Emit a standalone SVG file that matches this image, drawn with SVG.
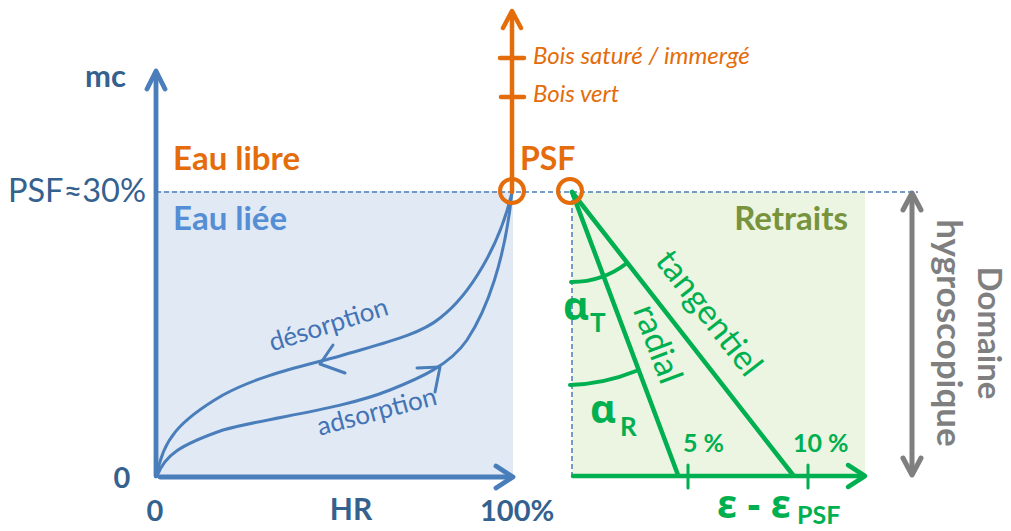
<svg xmlns="http://www.w3.org/2000/svg" width="1011" height="531" viewBox="0 0 1011 531">
<style>
text{font-family:Lato,"Liberation Sans",sans-serif}
.b{font-weight:bold}
.dk{fill:#35618f}
.or{fill:#e46c0a}
.gr{fill:#00b050}
.greek{font-family:"Noto Sans","DejaVu Sans",sans-serif;font-weight:bold}
.ax{fill:none;stroke-linecap:round;stroke-linejoin:round}
.blue{stroke:#4a7ebb}
.orange{stroke:#e46c0a}
.green{stroke:#00b050}
.gray{stroke:#7f7f7f}
</style>
<rect width="1011" height="531" fill="#ffffff"/>
<g id="zones">
<rect x="156" y="191" width="357" height="286" fill="#e0e9f4"/>
<rect x="572" y="192" width="293" height="285" fill="#ecf4e2"/>
<line x1="156" y1="192" x2="918" y2="192" stroke="#4a7ebb" stroke-width="1.5" stroke-dasharray="5 3"/>
<line x1="572" y1="192" x2="572" y2="477" stroke="#4a7ebb" stroke-width="1.5" stroke-dasharray="5 3"/>
</g>
<g id="connectors">
<g id="left-axes" class="ax blue" stroke-width="4.8">
<line x1="156" y1="476" x2="156" y2="73"/>
<polyline points="147,89 156,71 165,89"/>
<line x1="160" y1="477" x2="511" y2="477"/>
<polyline points="496,466 513,477 496,488"/>
</g>
<g id="curves" class="ax blue" stroke-width="3">
<path d="M157,476 C162,440 180,420 223,395 C260,375 300,367 340,356 C380,344 420,335 440,318 C470,295 500,245 512,192"/>
<path d="M157,476 C165,455 180,445 223,430 C270,417 340,410 390,390 C420,378 450,365 467,340 C487,310 505,260 512,192"/>
<polyline points="333,345 320,364 345,373"/>
<polyline points="417,368 440,367 435,392"/>
</g>
<g id="orange-axis" class="ax orange" stroke-width="4.5">
<line x1="512" y1="192" x2="512" y2="13"/>
<polyline points="503,28 512,11 521,28"/>
<line x1="500" y1="58" x2="524" y2="58"/>
<line x1="501" y1="97" x2="524" y2="97"/>
</g>
<g id="right-axes" class="ax green" stroke-width="4.5">
<line x1="573" y1="476" x2="862" y2="476"/>
<polyline points="848,465 865,476 848,487"/>
<line x1="688" y1="465" x2="688" y2="488" stroke-width="3"/>
<line x1="808" y1="465" x2="808" y2="488" stroke-width="3"/>
<line x1="572" y1="192" x2="678" y2="475"/>
<line x1="572" y1="192" x2="793" y2="475"/>
<path d="M571,282 A90,90 0 0 0 627,263" stroke-width="4"/>
<path d="M570,385 A193,193 0 0 0 636,371" stroke-width="4"/>
</g>
<g id="hygro-arrow" class="ax gray" stroke-width="5">
<line x1="912" y1="196" x2="912" y2="472"/>
<polyline points="903,210 912,193 921,210"/>
<polyline points="903,458 912,475 921,458"/>
</g>
</g>
<g id="psf-markers" fill="none" stroke="#e46c0a" stroke-width="4">
<circle cx="512" cy="191" r="12"/>
<circle cx="570" cy="191" r="12"/>
</g>
<g id="left-labels">
<text x="85" y="87" class="b dk" font-size="31">mc</text>
<text x="146" y="202" class="dk" font-size="32.5" text-anchor="end">PSF≈30%</text>
<text x="173" y="170" class="b or" font-size="33">Eau libre</text>
<text x="173" y="230" class="b" font-size="33" fill="#558ed5">Eau liée</text>
<text x="122" y="488" class="b dk" font-size="29" text-anchor="middle">0</text>
<text x="155" y="521" class="b dk" font-size="29" text-anchor="middle">0</text>
<text x="351" y="520" class="b dk" font-size="30" text-anchor="middle">HR</text>
<text x="480" y="521" class="b dk" font-size="29">100%</text>
<text transform="translate(331,333) rotate(-17.5)" font-size="26" fill="#4373b5" text-anchor="middle">désorption</text>
<text transform="translate(379,420) rotate(-15)" font-size="26" fill="#4373b5" text-anchor="middle">adsorption</text>
</g>
<g id="orange-labels">
<text x="520" y="170" class="b or" font-size="32">PSF</text>
<text x="533" y="64" class="or" font-size="24" font-style="italic">Bois saturé / immergé</text>
<text x="533" y="102" class="or" font-size="24" font-style="italic">Bois vert</text>
</g>
<g id="right-labels">
<text x="848" y="230" class="b" font-size="33" fill="#77933c" text-anchor="end">Retraits</text>
<text transform="translate(700,320) rotate(52)" class="gr" font-size="34" text-anchor="middle">tangentiel</text>
<text transform="translate(647,348) rotate(69.5)" class="gr" font-size="34" text-anchor="middle">radial</text>
<text x="563" y="320" class="gr greek" font-size="40">α</text>
<text x="590" y="332" class="gr b" font-size="26">T</text>
<text x="590" y="423" class="gr greek" font-size="40">α</text>
<text x="620" y="436" class="gr b" font-size="26">R</text>
<text x="683" y="452" class="gr b" font-size="25">5 %</text>
<text x="793" y="452" class="gr b" font-size="25">10 %</text>
<text x="717" y="518" class="gr greek" font-size="40" xml:space="preserve">ε - ε</text>
<text x="797" y="524" class="gr b" font-size="25">PSF</text>
</g>
<g id="hygro-labels" fill="#7f7f7f">
<text transform="translate(978,333) rotate(90)" class="b" font-size="33" text-anchor="middle">Domaine</text>
<text transform="translate(937,333) rotate(90)" class="b" font-size="35" text-anchor="middle">hygroscopique</text>
</g>
</svg>
